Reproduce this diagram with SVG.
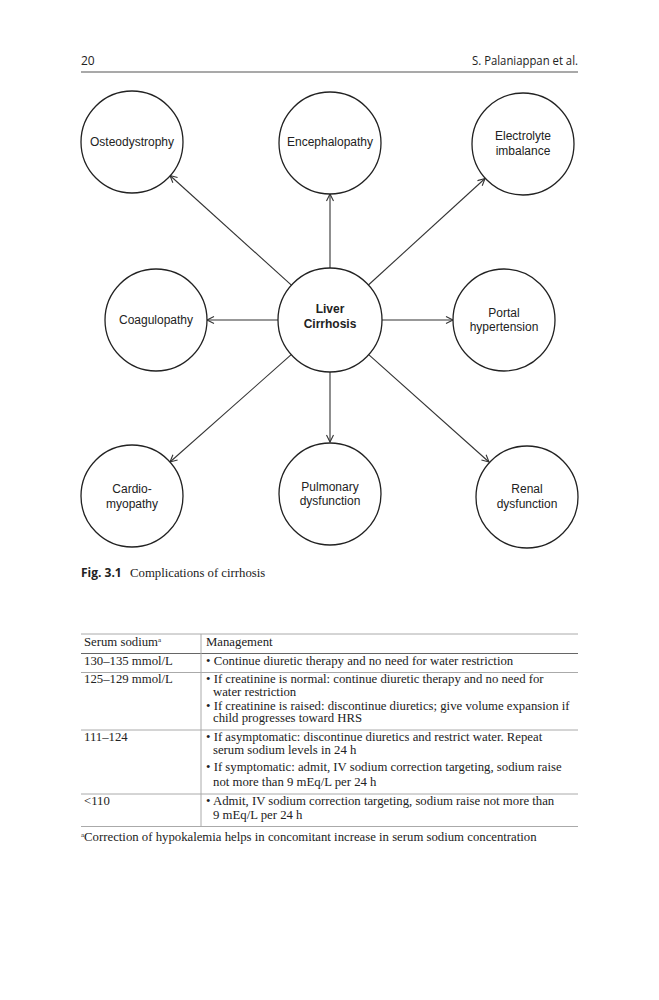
<svg xmlns="http://www.w3.org/2000/svg" width="659" height="1000" viewBox="0 0 659 1000">
<style>
.hdr{font-family:"Open Sans","Noto Sans",sans-serif;font-size:12px;fill:#222}
.node circle{fill:#fff;stroke:#222;stroke-width:1.3}
.node text{font-family:"Liberation Sans",Arial,sans-serif;font-size:12px;fill:#222;text-anchor:middle}
.node text.b{font-weight:bold}
.conn line{stroke:#333;stroke-width:1.1}
.cap{font-family:"Open Sans","Noto Sans",sans-serif;font-size:12px;font-weight:bold;fill:#222}
.ser{font-family:"Liberation Serif","Times New Roman",serif;font-size:12.75px;fill:#222}
.rl{stroke:#aaa;stroke-width:1}
.rd{stroke:#666;stroke-width:1}
</style>
<defs>
<marker id="ah" markerWidth="10" markerHeight="10" refX="8" refY="4" orient="auto" markerUnits="userSpaceOnUse">
<path d="M1,0.5 L8,4 L1,7.5" fill="none" stroke="#333" stroke-width="1.1"/>
</marker>
</defs>
<rect width="659" height="1000" fill="#fff"/>
<text class="hdr" x="81" y="65">20</text>
<text class="hdr" x="578" y="65" text-anchor="end" textLength="106" lengthAdjust="spacingAndGlyphs">S. Palaniappan et al.</text>
<line x1="81" y1="72" x2="578" y2="72" stroke="#555" stroke-width="1.2"/>

<g id="connectors" class="conn">
<line x1="291.4" y1="285.1" x2="170" y2="175.5" marker-end="url(#ah)"/>
<line x1="330" y1="268" x2="330" y2="194" marker-end="url(#ah)"/>
<line x1="368.4" y1="285" x2="485" y2="178.5" marker-end="url(#ah)"/>
<line x1="278" y1="320" x2="207" y2="320" marker-end="url(#ah)"/>
<line x1="382" y1="320" x2="453" y2="320" marker-end="url(#ah)"/>
<line x1="291.2" y1="354.7" x2="170" y2="462" marker-end="url(#ah)"/>
<line x1="330" y1="372" x2="330" y2="442" marker-end="url(#ah)"/>
<line x1="368.7" y1="354.7" x2="489" y2="462" marker-end="url(#ah)"/>
</g>

<g id="osteodystrophy" class="node"><circle cx="132" cy="142" r="51"/><text x="132" y="146">Osteodystrophy</text></g>
<g id="encephalopathy" class="node"><circle cx="330" cy="143" r="51"/><text x="330" y="146">Encephalopathy</text></g>
<g id="electrolyte" class="node"><circle cx="523" cy="144" r="51"/><text x="523" y="140">Electrolyte</text><text x="523" y="155">imbalance</text></g>
<g id="coagulopathy" class="node"><circle cx="156" cy="320" r="51"/><text x="156" y="324">Coagulopathy</text></g>
<g id="liver" class="node"><circle cx="330" cy="320" r="52"/><text class="b" x="330" y="313">Liver</text><text class="b" x="330" y="328">Cirrhosis</text></g>
<g id="portal" class="node"><circle cx="504" cy="320" r="51"/><text x="504" y="317">Portal</text><text x="504" y="331">hypertension</text></g>
<g id="cardio" class="node"><circle cx="132" cy="496" r="51"/><text x="132" y="493">Cardio-</text><text x="132" y="508">myopathy</text></g>
<g id="pulmonary" class="node"><circle cx="330" cy="494" r="51"/><text x="330" y="491">Pulmonary</text><text x="330" y="505">dysfunction</text></g>
<g id="renal" class="node"><circle cx="527" cy="497" r="51"/><text x="527" y="493">Renal</text><text x="527" y="508">dysfunction</text></g>

<text x="81" y="577"><tspan class="cap">Fig. 3.1</tspan></text>
<text class="ser" x="130" y="577">Complications of cirrhosis</text>

<g id="table">
<line class="rl" x1="81" y1="634" x2="578" y2="634"/>
<line class="rd" x1="81" y1="653.5" x2="578" y2="653.5"/>
<line class="rl" x1="81" y1="672.5" x2="578" y2="672.5"/>
<line class="rl" x1="81" y1="730" x2="578" y2="730"/>
<line class="rl" x1="81" y1="794" x2="578" y2="794"/>
<line class="rl" x1="81" y1="826.5" x2="578" y2="826.5"/>
<line class="rl" x1="201" y1="634" x2="201" y2="826.5"/>
<text class="ser" x="84" y="645.5">Serum sodium<tspan font-size="7" dy="-4">a</tspan></text>
<text class="ser" x="206" y="645.5">Management</text>
<text class="ser" x="84" y="664.5">130–135 mmol/L</text>
<text class="ser" x="206" y="664.5">• Continue diuretic therapy and no need for water restriction</text>
<text class="ser" x="84" y="683">125–129 mmol/L</text>
<text class="ser" x="206" y="683">• If creatinine is normal: continue diuretic therapy and no need for</text>
<text class="ser" x="213" y="696">water restriction</text>
<text class="ser" x="206" y="709.5">• If creatinine is raised: discontinue diuretics; give volume expansion if</text>
<text class="ser" x="213" y="722">child progresses toward HRS</text>
<text class="ser" x="84" y="741">111–124</text>
<text class="ser" x="206" y="741">• If asymptomatic: discontinue diuretics and restrict water. Repeat</text>
<text class="ser" x="213" y="754">serum sodium levels in 24 h</text>
<text class="ser" x="206" y="771">• If symptomatic: admit, IV sodium correction targeting, sodium raise</text>
<text class="ser" x="213" y="786">not more than 9 mEq/L per 24 h</text>
<text class="ser" x="84" y="805">&lt;110</text>
<text class="ser" x="206" y="805">• Admit, IV sodium correction targeting, sodium raise not more than</text>
<text class="ser" x="213" y="819">9 mEq/L per 24 h</text>
<text class="ser" x="81" y="841"><tspan font-size="7" dy="-4">a</tspan><tspan dy="4">Correction of hypokalemia helps in concomitant increase in serum sodium concentration</tspan></text>
</g>
</svg>
